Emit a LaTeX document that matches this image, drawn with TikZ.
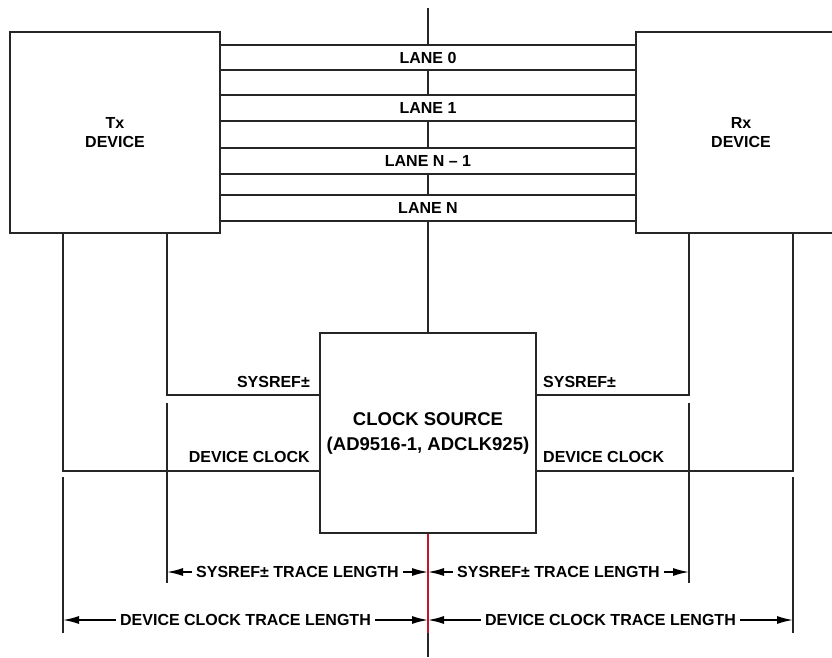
\documentclass[tikz,border=0pt]{standalone}
\usepackage{fontspec}
\setmainfont{Liberation Sans}
\usepackage{tikz}
\usetikzlibrary{arrows.meta, positioning}
\definecolor{tracered}{RGB}{200,20,40}
\tikzset{
  lbl/.style={font=\fontsize{16}{19}\selectfont\bfseries},
  box/.style={draw=black!85, line width=2pt, fill=white, align=center, inner sep=0pt},
  lane/.style={lbl, fill=white, minimum width=416pt, minimum height=25pt, inner sep=0pt},
  wire/.style={draw=black!85, line width=2pt},
  dim/.style={draw=black, line width=1.5pt, {Latex[length=16pt,width=8pt]}-{Latex[length=16pt,width=8pt]}},
  dimlbl/.style={lbl, fill=white, inner xsep=4pt, inner ysep=1pt}
}
\begin{document}
\begin{tikzpicture}[x=1pt, y=-1pt]
  \useasboundingbox (0,0) rectangle (832,658);
  % Clock source
  \node[box, font=\fontsize{18.5}{25}\selectfont\bfseries, minimum width=216pt, minimum height=200pt] (clk) at (428,433) {CLOCK SOURCE\\(AD9516-1, ADCLK925)};
  % Centre line
  \coordinate (top) at (428,8);
  \coordinate (redend) at (428,633);
  \coordinate (bottom) at (428,657);
  \draw[wire] (top) -- (clk.north);
  \draw[wire, draw=tracered] (clk.south) -- (redend);
  \draw[wire] (redend) -- (bottom);
  % Lanes
  \node[lane] (lane0) at (428,57.5) {LANE 0};
  \node[lane] (lane1) at (428,108) {LANE 1};
  \node[lane] (lanen1) at (428,161) {LANE N -- 1};
  \node[lane] (lanen) at (428,208) {LANE N};
  \draw[wire, line width=1.8pt] (lane0.north west) -- (lane0.north east) (lane0.south west) -- (lane0.south east);
  \draw[wire, line width=1.8pt] (lane1.north west) -- (lane1.north east) (lane1.south west) -- (lane1.south east);
  \draw[wire, line width=1.8pt] (lanen1.north west) -- (lanen1.north east) (lanen1.south west) -- (lanen1.south east);
  \draw[wire, line width=1.8pt] (lanen.north west) -- (lanen.north east) (lanen.south west) -- (lanen.south east);
  % Devices
  \node[box, lbl, minimum width=210pt, minimum height=201pt] (tx) at (115,132.5) {Tx\\DEVICE};
  \node[box, lbl, minimum width=210pt, minimum height=201pt] (rx) at (741,132.5) {Rx\\DEVICE};
  % SYSREF and device clock
  \coordinate (txsys) at (167,395);
  \coordinate (txclk) at (63,471);
  \coordinate (rxsys) at (689,395);
  \coordinate (rxclk) at (793,471);
  \draw[wire] (tx.south -| txsys) |- (clk.west |- txsys);
  \draw[wire] (tx.south -| txclk) |- (clk.west |- txclk);
  \draw[wire] (rx.south -| rxsys) |- (clk.east |- rxsys);
  \draw[wire] (rx.south -| rxclk) |- (clk.east |- rxclk);
  \node[lbl, anchor=base east, inner sep=0pt] (txsyslbl) at (310,387) {SYSREF±};
  \node[lbl, anchor=base east, inner sep=0pt] (txclklbl) at (310,462) {DEVICE CLOCK};
  \node[lbl, anchor=base west, inner sep=0pt] (rxsyslbl) at (543,387) {SYSREF±};
  \node[lbl, anchor=base west, inner sep=0pt] (rxclklbl) at (543,462) {DEVICE CLOCK};
  % Extension lines
  \draw[wire] (167,403) -- (167,583);
  \draw[wire] (63,477) -- (63,633);
  \draw[wire] (689,403) -- (689,583);
  \draw[wire] (793,477) -- (793,633);
  % Trace lengths
  \coordinate (txsysdim) at (167,572);
  \coordinate (rxsysdim) at (689,572);
  \coordinate (midsys) at (428,572);
  \coordinate (txclkdim) at (63,620);
  \coordinate (rxclkdim) at (793,620);
  \coordinate (midclk) at (428,620);
  \draw[dim] (txsysdim) -- node[dimlbl] (txsystxt) {SYSREF± TRACE LENGTH} (midsys);
  \draw[dim] (midsys) -- node[dimlbl] (rxsystxt) {SYSREF± TRACE LENGTH} (rxsysdim);
  \draw[dim] (txclkdim) -- node[dimlbl] (txclktxt) {DEVICE CLOCK TRACE LENGTH} (midclk);
  \draw[dim] (midclk) -- node[dimlbl] (rxclktxt) {DEVICE CLOCK TRACE LENGTH} (rxclkdim);
\end{tikzpicture}
\end{document}
